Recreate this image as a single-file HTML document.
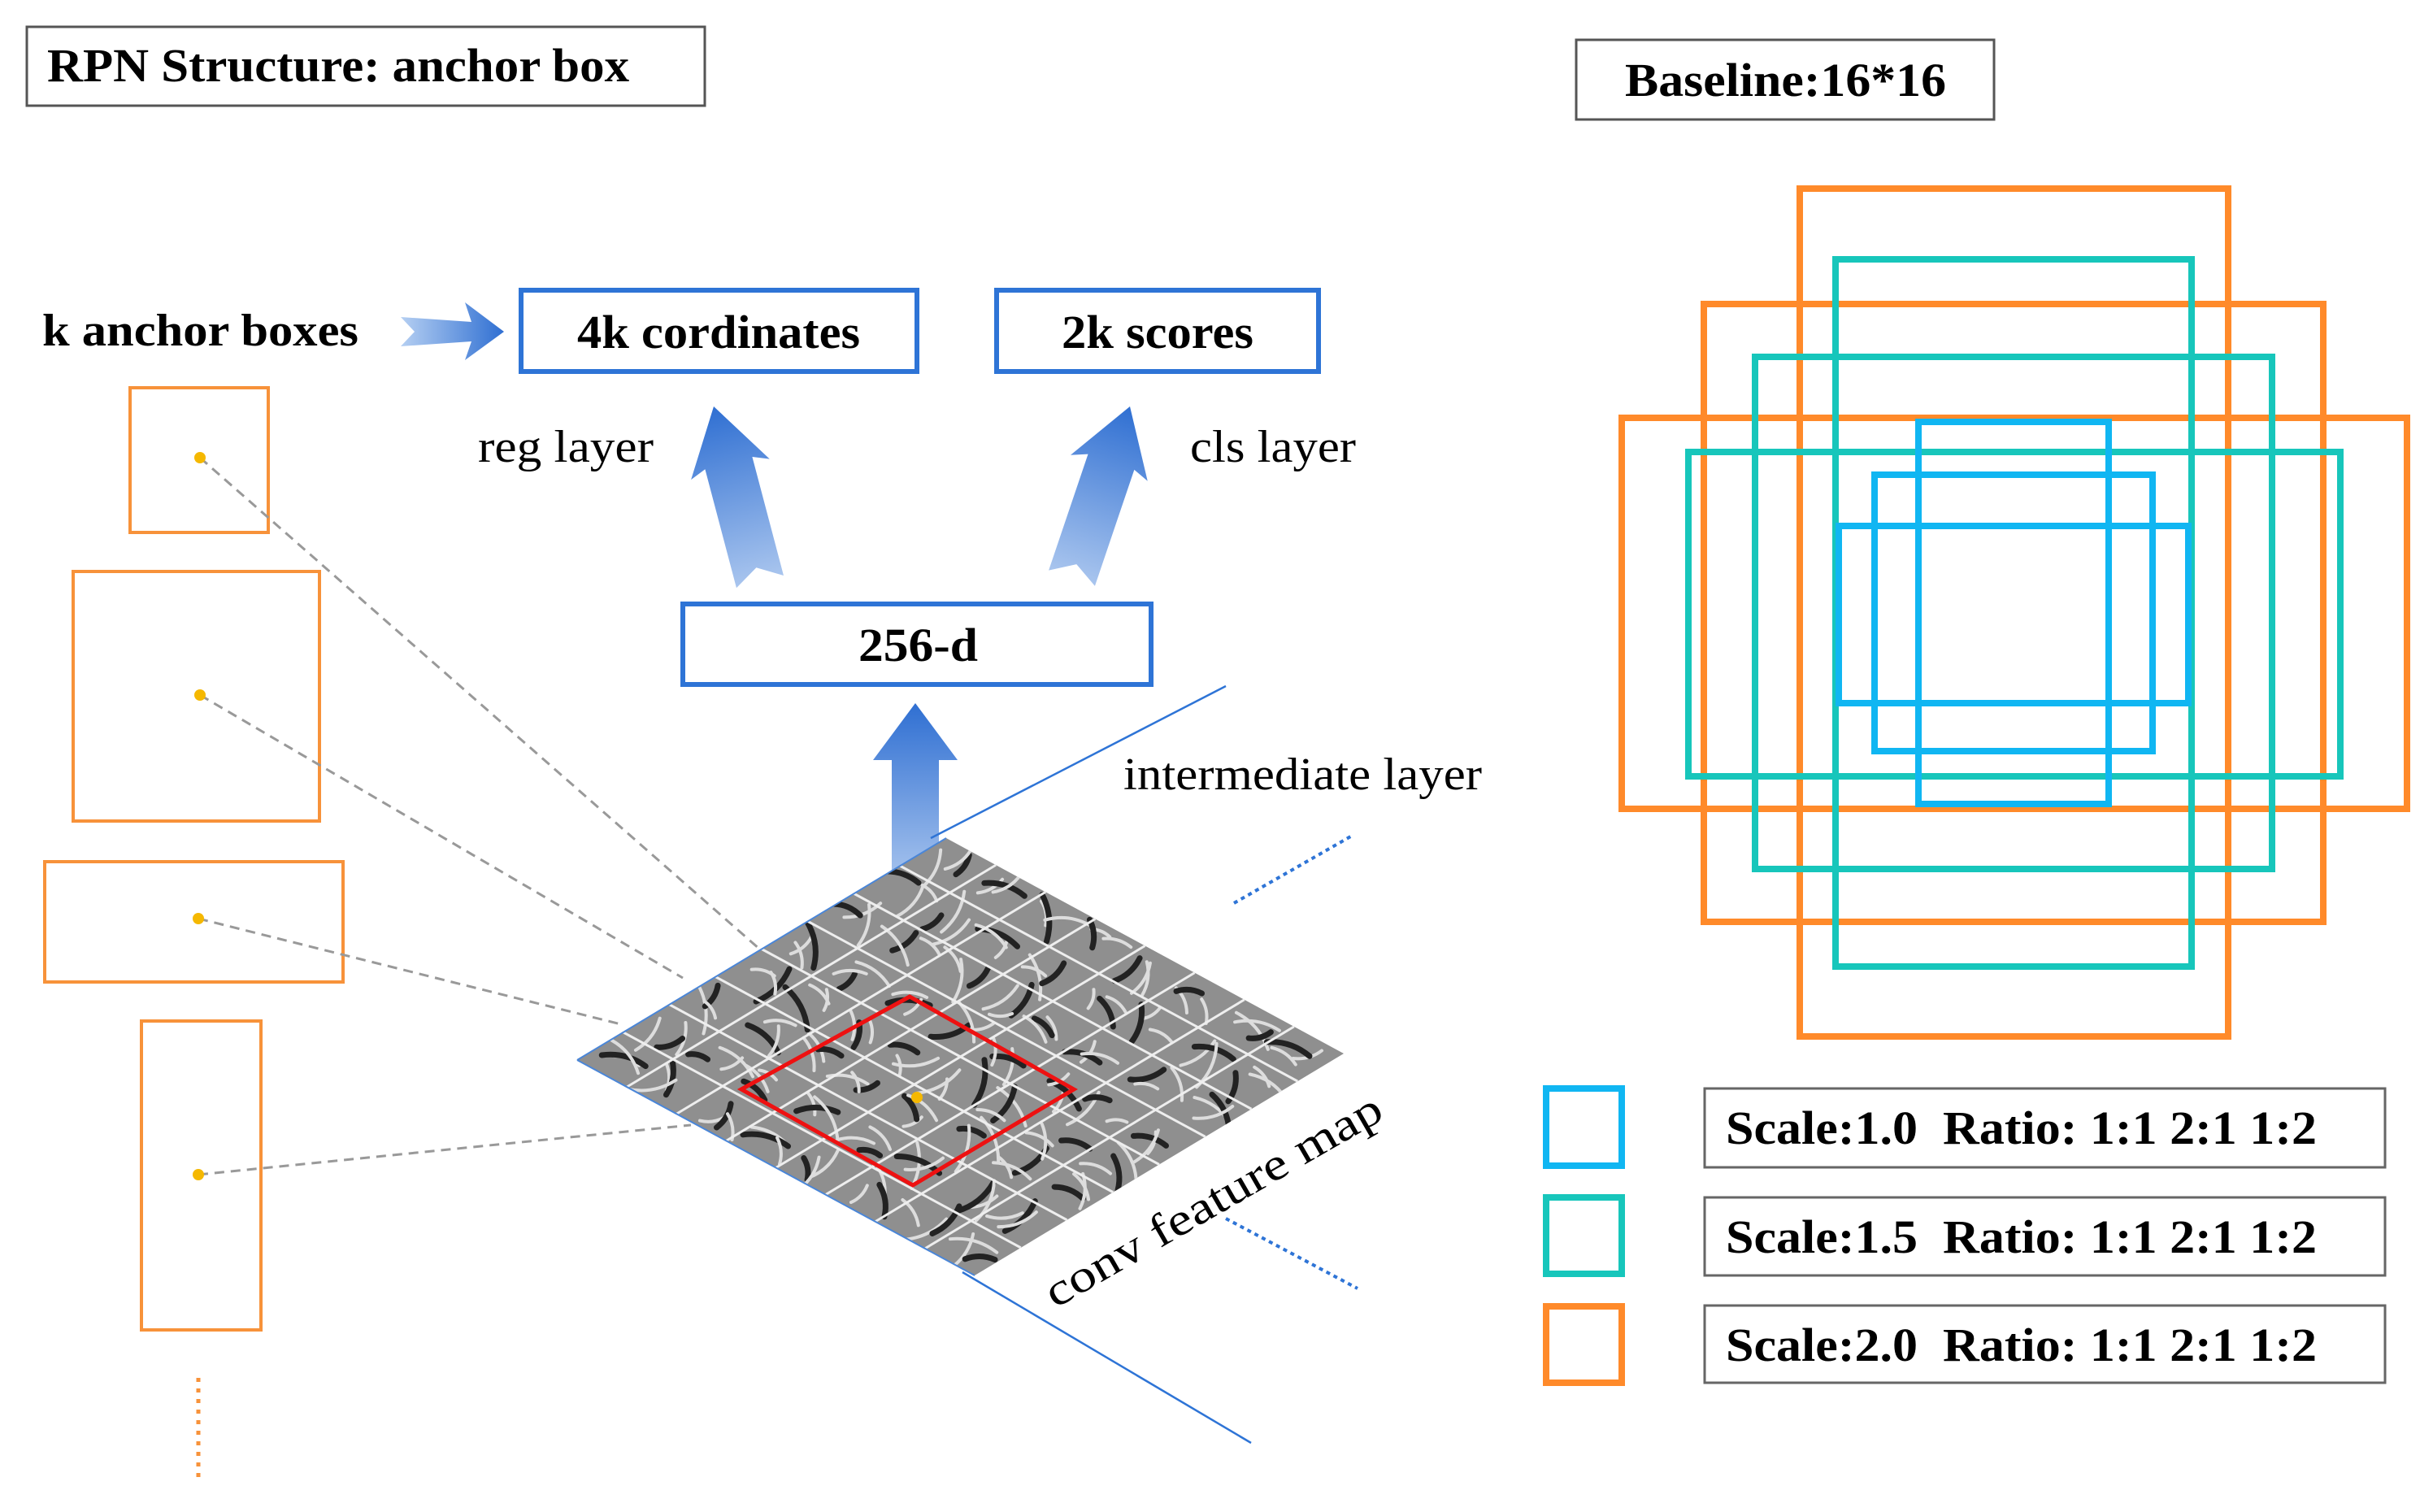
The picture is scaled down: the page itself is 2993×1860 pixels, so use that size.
<!DOCTYPE html>
<html><head><meta charset="utf-8"><style>
html,body{margin:0;padding:0;background:#fff}
svg text{font-family:"Liberation Serif",serif}
</style></head><body>
<svg id="s" width="2993" height="1855" viewBox="0 0 2993 1855" xmlns="http://www.w3.org/2000/svg">
<defs>
<linearGradient id="ga" x1="0" y1="0" x2="0" y2="1">
<stop offset="0" stop-color="#2f6fd2"/><stop offset="1" stop-color="#a9c5ee"/></linearGradient>
<linearGradient id="gr" x1="1" y1="0" x2="0" y2="0">
<stop offset="0" stop-color="#2f6fd2"/><stop offset="1" stop-color="#b5cff2"/></linearGradient>
<clipPath id="dc"><polygon points="710,1304 1164,1031 1653,1296 1199,1569"/></clipPath>
</defs>

<rect x="33" y="33" width="834" height="97" fill="none" stroke="#555" stroke-width="3"/>
<text x="58" y="100" font-size="58" font-weight="bold" textLength="716" lengthAdjust="spacingAndGlyphs">RPN Structure: anchor box</text>
<rect x="1939" y="49" width="514" height="98" fill="none" stroke="#555" stroke-width="3"/>
<text x="1999" y="118" font-size="58" font-weight="bold" textLength="395" lengthAdjust="spacingAndGlyphs">Baseline:16*16</text>

<text x="52" y="425" font-size="56" font-weight="bold" textLength="389" lengthAdjust="spacingAndGlyphs">k anchor boxes</text>
<polygon points="620,408 572,372 580,396 493,390 510,408 493,426 580,420 572,443" fill="url(#gr)"/>
<rect x="641" y="357" width="487" height="100" fill="none" stroke="#2e74d6" stroke-width="6"/>
<text x="710" y="428" font-size="58" font-weight="bold" textLength="348" lengthAdjust="spacingAndGlyphs">4k cordinates</text>
<rect x="1226" y="357" width="396" height="100" fill="none" stroke="#2e74d6" stroke-width="6"/>
<text x="1306" y="428" font-size="58" font-weight="bold" textLength="236" lengthAdjust="spacingAndGlyphs">2k scores</text>
<text x="588" y="568" font-size="56" textLength="216" lengthAdjust="spacingAndGlyphs">reg layer</text>
<text x="1464" y="568" font-size="56" textLength="204" lengthAdjust="spacingAndGlyphs">cls layer</text>
<g transform="translate(878,500) rotate(-14.8)"><polygon points="0,0 50,80 30,72 30,223 0,205 -30,223 -30,72 -50,80" fill="url(#ga)"/></g>
<g transform="translate(1390,500) rotate(18.7)"><polygon points="0,0 50,80 30,72 30,223 0,205 -30,223 -30,72 -50,80" fill="url(#ga)"/></g>
<rect x="840" y="743" width="576" height="99" fill="none" stroke="#2e74d6" stroke-width="6"/>
<text x="1056" y="813" font-size="58" font-weight="bold" textLength="147" lengthAdjust="spacingAndGlyphs">256-d</text>
<polygon points="1126,865 1178,935 1155,935 1155,1088 1126,1072 1097,1088 1097,935 1074,935" fill="url(#ga)"/>

<line x1="1508" y1="844" x2="1145" y2="1031" stroke="#2e74d6" stroke-width="2.5"/>
<line x1="1184" y1="1565" x2="1539" y2="1775" stroke="#2e74d6" stroke-width="2.5"/>
<text x="1382" y="971" font-size="56" textLength="441" lengthAdjust="spacingAndGlyphs">intermediate layer</text>
<line x1="1518" y1="1111" x2="1665" y2="1027" stroke="#2e74d6" stroke-width="4" stroke-dasharray="5,5"/>
<line x1="1508" y1="1499" x2="1670" y2="1585" stroke="#2e74d6" stroke-width="4" stroke-dasharray="5,5"/>
<text transform="translate(1298,1610) rotate(-30)" font-size="56" textLength="470" lengthAdjust="spacingAndGlyphs">conv feature map</text>

<polygon points="710,1304 1164,1031 1653,1296 1199,1569" fill="#8f8f8f"/>
<g id="tex" clip-path="url(#dc)"></g>
<g id="grid"></g>
<line x1="710" y1="1304" x2="1164" y2="1031" stroke="#4a86d8" stroke-width="2"/>
<line x1="710" y1="1304" x2="1199" y2="1569" stroke="#4a86d8" stroke-width="2"/>
<polygon points="912,1340 1119,1226 1321,1340 1123,1458" fill="none" stroke="#ee1111" stroke-width="5"/>
<circle cx="1128" cy="1350" r="7" fill="#f5b800"/>

<g fill="none" stroke="#f7923a" stroke-width="4">
<rect x="160" y="477" width="170" height="178"/>
<rect x="90" y="703" width="303" height="307"/>
<rect x="55" y="1060" width="367" height="148"/>
<rect x="174" y="1256" width="147" height="380"/>
</g>
<line x1="244" y1="1695" x2="244" y2="1825" stroke="#f7923a" stroke-width="5" stroke-dasharray="5,8"/>
<g stroke="#999" stroke-width="3" stroke-dasharray="12,8">
<line x1="246" y1="563" x2="935" y2="1168"/>
<line x1="246" y1="855" x2="840" y2="1203"/>
<line x1="244" y1="1130" x2="764" y2="1260"/>
<line x1="244" y1="1445" x2="850" y2="1384"/>
</g>
<g fill="#f5b800"><circle cx="246" cy="563" r="7"/><circle cx="246" cy="855" r="7"/><circle cx="244" cy="1130" r="7"/><circle cx="244" cy="1445" r="7"/></g>

<g fill="none" stroke-width="8">
<rect x="2214" y="232" width="527" height="1043" stroke="#ff8a2a"/>
<rect x="2096" y="374" width="762" height="760" stroke="#ff8a2a"/>
<rect x="1995" y="514" width="966" height="481" stroke="#ff8a2a"/>
<rect x="2258" y="319" width="438" height="870" stroke="#17c6bb"/>
<rect x="2159" y="439" width="636" height="630" stroke="#17c6bb"/>
<rect x="2077" y="556" width="802" height="399" stroke="#17c6bb"/>
<rect x="2360" y="519" width="234" height="470" stroke="#10b6f2"/>
<rect x="2306" y="584" width="342" height="340" stroke="#10b6f2"/>
<rect x="2262" y="647" width="430" height="218" stroke="#10b6f2"/>
<rect x="1902" y="1339" width="93" height="95" stroke="#10b6f2"/>
<rect x="1902" y="1473" width="93" height="94" stroke="#17c6bb"/>
<rect x="1902" y="1607" width="93" height="94" stroke="#ff8a2a"/>
</g>
<g fill="none" stroke="#666" stroke-width="3">
<rect x="2097" y="1339" width="837" height="97"/>
<rect x="2097" y="1473" width="837" height="96"/>
<rect x="2097" y="1606" width="837" height="95"/>
</g>
<g font-size="58" font-weight="bold">
<text x="2123" y="1407" xml:space="preserve" textLength="727" lengthAdjust="spacingAndGlyphs">Scale:1.0  Ratio: 1:1 2:1 1:2</text>
<text x="2123" y="1541" xml:space="preserve" textLength="727" lengthAdjust="spacingAndGlyphs">Scale:1.5  Ratio: 1:1 2:1 1:2</text>
<text x="2123" y="1674" xml:space="preserve" textLength="727" lengthAdjust="spacingAndGlyphs">Scale:2.0  Ratio: 1:1 2:1 1:2</text>
</g>
</svg>
<script>
(function(){
var NS="http://www.w3.org/2000/svg";
function P(u,v){return [710+454*u+489*v,1304-273*u+265*v];}
var g=document.getElementById("grid"),t=document.getElementById("tex");
var N=8;
var s=7;function r(){s=(s*9301+49297)%233280;return s/233280;}
for(var i=0;i<N;i++)for(var j=0;j<N;j++)for(var k=0;k<3;k++){
 var c=P((i+0.2+0.6*r())/N,(j+0.2+0.6*r())/N);var ang=r()*Math.PI,len=12+18*r();
 var dx=Math.cos(ang)*len,dy=Math.sin(ang)*len;
 var p=document.createElementNS(NS,"path");
 p.setAttribute("d","M"+(c[0]-dx)+","+(c[1]-dy)+" Q"+(c[0]+dy*0.4)+","+(c[1]-dx*0.4)+" "+(c[0]+dx)+","+(c[1]+dy));
 p.setAttribute("stroke",k==1?"#222":"#ddd");p.setAttribute("stroke-width",k==1?"7":"4");p.setAttribute("fill","none");p.setAttribute("stroke-linecap","round");
 t.appendChild(p);
}
for(var i=1;i<N;i++){
 var a=P(i/N,0),b=P(i/N,1),c=P(0,i/N),d=P(1,i/N);
 [[a,b],[c,d]].forEach(function(p){var l=document.createElementNS(NS,"line");
 l.setAttribute("x1",p[0][0]);l.setAttribute("y1",p[0][1]);l.setAttribute("x2",p[1][0]);l.setAttribute("y2",p[1][1]);
 l.setAttribute("stroke","#eee");l.setAttribute("stroke-width","3");g.appendChild(l);});
}
})();
</script>
</body></html>
